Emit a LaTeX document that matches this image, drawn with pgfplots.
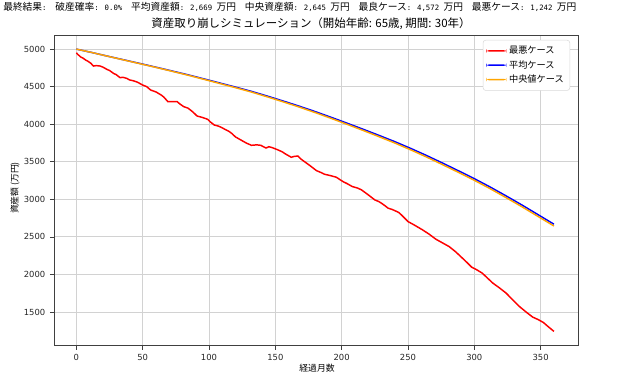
\documentclass[border=0pt]{standalone}
\usepackage{pgfplots}
\pgfplotsset{compat=1.18}
\usepackage{fontspec}
\setmainfont{DejaVu Sans}
\newfontfamily\cjk{Noto Sans CJK JP}
\newfontfamily\mono{DejaVu Sans Mono}
\definecolor{mplorange}{RGB}{255,165,0}
\newcommand\m[1]{{\mono\fontsize{5.5}{7}\selectfont #1}}
\begin{document}
\begin{tikzpicture}[x=0.75pt,y=0.75pt]
\path[use as bounding box] (0,0) rectangle (640,377);
\begin{axis}[
  at={(40.65pt,23.625pt)}, anchor=south west,
  scale only axis, width=393.2pt, height=232.9pt,
  xmin=-16.7, xmax=378.5, ymin=1054, ymax=5188,
  xtick={0,50,...,350}, ytick={1500,2000,...,5000},
  /pgf/number format/assume math mode=true,
  /pgf/number format/1000 sep={},
  tick label style={font=\fontsize{6.3}{7}\selectfont, text=black!85},
  grid=major, major grid style={color=gray!35, line width=0.6pt},
  axis line style={black!75, line width=0.6pt},
  tick style={black!75, line width=0.5pt},
  tick align=outside, major tick length=3.2pt,
  xtick pos=bottom, ytick pos=left,
  legend style={at={(0.984,0.984)}, anchor=north east,
    font=\cjk\fontsize{6.9}{8}\selectfont, draw=gray!30, rounded corners=2pt,
    row sep=-0.5pt, inner sep=2.5pt},
  legend cell align=left,
  legend image code/.code={\fill[#1, draw=none] (0pt,-0.6pt) rectangle (15pt,0.6pt);},
]
\addplot[red, line width=1.1pt] coordinates {
(0,4951)(1,4930)(2,4915)(3,4898)(5,4880)(7,4854)(9,4835)(11,4810)(12,4790)(13,4774)(15,4780)(18,4774)(20,4760)(23,4730)(25,4715)(28,4677)(30,4660)(33,4619)(35,4625)(38,4610)(40,4590)(43,4578)(46,4560)(50,4521)(53,4500)(56,4455)(60,4430)(64,4388)(66,4360)(69,4300)(72,4302)(76,4300)(78,4270)(81,4233)(84,4215)(86,4189)(88,4160)(91,4109)(95,4090)(99,4065)(101,4030)(104,3989)(107,3975)(109,3960)(112,3932)(115,3905)(117,3879)(120,3830)(124,3790)(128,3750)(132,3719)(136,3725)(139,3719)(143,3683)(145,3700)(147,3692)(151,3665)(155,3634)(158,3600)(162,3560)(164,3570)(167,3577)(169,3540)(172,3501)(176,3450)(181,3382)(184,3360)(187,3334)(191,3318)(196,3294)(198,3270)(201,3236)(204,3210)(208,3170)(212,3150)(215,3125)(220,3060)(225,2992)(228,2970)(230,2948)(233,2910)(235,2882)(238,2865)(240,2850)(243,2825)(245,2793)(248,2740)(250,2704)(255,2655)(261,2593)(266,2535)(271,2469)(276,2420)(281,2371)(286,2300)(291,2217)(295,2150)(298,2097)(302,2060)(306,2017)(310,1950)(314,1884)(319,1820)(324,1751)(329,1660)(334,1573)(339,1500)(344,1432)(348,1400)(352,1361)(356,1300)(360,1242)
};
\addlegendentry{最悪ケース}
\addplot[blue, line width=1.1pt] coordinates {
(0,5000)(12,4953)(24,4904)(36,4856)(48,4808)(60,4759)(72,4709)(84,4658)(96,4604)(108,4549)(120,4494)(132,4437)(144,4374)(156,4308)(168,4240)(180,4168)(192,4092)(204,4014)(216,3934)(228,3852)(240,3768)(252,3678)(264,3583)(276,3483)(288,3380)(300,3275)(312,3163)(324,3045)(336,2923)(348,2796)(360,2669)
};
\addlegendentry{平均ケース}
\addplot[mplorange, line width=1.1pt] coordinates {
(0,5000)(12,4953)(24,4903)(36,4854)(48,4805)(60,4756)(72,4705)(84,4653)(96,4598)(108,4542)(120,4486)(132,4428)(144,4364)(156,4297)(168,4228)(180,4155)(192,4078)(204,3999)(216,3918)(228,3835)(240,3750)(252,3659)(264,3563)(276,3462)(288,3359)(300,3253)(312,3141)(324,3022)(336,2900)(348,2772)(360,2645)
};
\addlegendentry{中央値ケース}
\end{axis}
\node[anchor=west, inner sep=0pt, font=\cjk\fontsize{7.3}{8}\selectfont] at (3,370) {最終結果\m{:\ \ }破産確率\m{: 0.0\%\ \ }平均資産額\m{: 2,669 }万円\m{\ \ }中央資産額\m{: 2,645 }万円\m{\ \ }最良ケース\m{: 4,572 }万円\m{\ \ }最悪ケース\m{: 1,242 }万円};
\node[font=\cjk\fontsize{8.6}{10}\selectfont] at (311,353) {資産取り崩しシミュレーション（開始年齢: 65歳, 期間: 30年）};
\node[rotate=90, font=\cjk\fontsize{6.6}{8}\selectfont] at (15,189) {資産額 (万円)};
\node[font=\cjk\fontsize{6.6}{8}\selectfont] at (317,9) {経過月数};
\end{tikzpicture}
\end{document}
